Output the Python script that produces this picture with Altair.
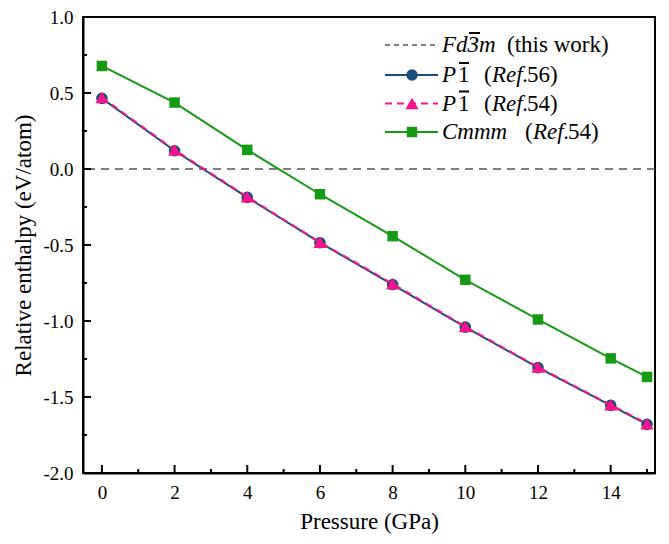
import altair as alt
import pandas as pd

pressure = [0, 2, 4, 6, 8, 10, 12, 14, 15]
p1_ref56 = [0.465, 0.12, -0.187, -0.485, -0.76, -1.04, -1.307, -1.555, -1.68]
p1_ref54 = [0.47, 0.125, -0.183, -0.482, -0.755, -1.037, -1.303, -1.552, -1.676]
cmmm_ref54 = [0.678, 0.437, 0.126, -0.166, -0.442, -0.729, -0.99, -1.246, -1.368]

x_major = [0, 2, 4, 6, 8, 10, 12, 14]
x_minor = [1, 3, 5, 7, 9, 11, 13, 15]
y_major = [-2.0, -1.5, -1.0, -0.5, 0.0, 0.5, 1.0]
y_minor = [-1.75, -1.25, -0.75, -0.25, 0.25, 0.75]

NAVY = "#1c4e7c"
PINK = "#f5148c"
GREEN = "#169a16"
GRAY = "#555555"
FONT = "Liberation Serif"

W, H = 572, 456

df = pd.DataFrame({"p": pressure, "a": p1_ref56, "b": p1_ref54, "c": cmmm_ref54})
one = pd.DataFrame({"k": [0]})

xs = alt.Scale(domain=[-0.52, 15.22], nice=False, zero=False)
ys = alt.Scale(domain=[-2.0, 1.0], nice=False, zero=False)

x_axis = alt.Axis(values=x_major, title="Pressure (GPa)", tickSize=0, labelPadding=10,
                  grid=False, domainColor="black", domainWidth=2, titlePadding=8)
y_axis = alt.Axis(values=y_major, title="Relative enthalpy (eV/atom)", tickSize=0,
                  labelPadding=10, grid=False, domainColor="black", domainWidth=2,
                  labelExpr="replace(format(datum.value, '.1f'), '\u2212', '-')",
                  titlePadding=7)

base = alt.Chart(df)

zero_line = alt.Chart(one).mark_rule(color=GRAY, strokeDash=[8, 6], strokeWidth=1.5).encode(
    y=alt.datum(0, scale=ys, axis=y_axis)
)

line_a = base.mark_line(color=NAVY, strokeWidth=2).encode(
    x=alt.X("p:Q", scale=xs, axis=x_axis), y=alt.Y("a:Q", scale=ys, axis=y_axis))
pts_a = base.mark_point(shape="circle", filled=True, color=NAVY, size=135, opacity=1).encode(
    x=alt.X("p:Q", scale=xs), y=alt.Y("a:Q", scale=ys))
line_b = base.mark_line(color=PINK, strokeWidth=2, strokeDash=[7, 5]).encode(
    x=alt.X("p:Q", scale=xs), y=alt.Y("b:Q", scale=ys))
pts_b = base.mark_point(shape="triangle-up", filled=True, color=PINK, size=170, opacity=1).encode(
    x=alt.X("p:Q", scale=xs), y=alt.Y("b:Q", scale=ys))
line_c = base.mark_line(color=GREEN, strokeWidth=2).encode(
    x=alt.X("p:Q", scale=xs), y=alt.Y("c:Q", scale=ys))
pts_c = base.mark_point(shape="square", filled=True, color=GREEN, size=110, opacity=1).encode(
    x=alt.X("p:Q", scale=xs), y=alt.Y("c:Q", scale=ys))

# inward ticks
xt_major = alt.Chart(pd.DataFrame({"v": x_major})).mark_rule(color="black", strokeWidth=2).encode(
    x=alt.X("v:Q", scale=xs), y=alt.value(H), y2=alt.value(H - 8))
xt_minor = alt.Chart(pd.DataFrame({"v": x_minor})).mark_rule(color="black", strokeWidth=2).encode(
    x=alt.X("v:Q", scale=xs), y=alt.value(H), y2=alt.value(H - 4))
yt_major = alt.Chart(pd.DataFrame({"v": y_major})).mark_rule(color="black", strokeWidth=2).encode(
    y=alt.Y("v:Q", scale=ys), x=alt.value(0), x2=alt.value(8))
yt_minor = alt.Chart(pd.DataFrame({"v": y_minor})).mark_rule(color="black", strokeWidth=2).encode(
    y=alt.Y("v:Q", scale=ys), x=alt.value(0), x2=alt.value(4))

# manual legend (pixel layout in plot coordinates)
LX0, LX1, LM = 302, 355, 329
rows = [28, 58, 86.5, 115]
leg = []
def lrule(color, y, dash=None, width=2.0, x0=LX0, x1=LX1):
    kw = dict(color=color, strokeWidth=width)
    if dash:
        kw["strokeDash"] = dash
    return alt.Chart(one).mark_rule(**kw).encode(
        x=alt.value(x0), x2=alt.value(x1), y=alt.value(y))

def lpoint(shape, color, size, y):
    return alt.Chart(one).mark_point(shape=shape, filled=True, color=color, size=size, opacity=1).encode(
        x=alt.value(LM), y=alt.value(y))

leg.append(lrule(GRAY, rows[0], dash=[5, 4], width=1.5))
leg.append(lrule(NAVY, rows[1]))
leg.append(lpoint("circle", NAVY, 135, rows[1]))
leg.append(lrule(PINK, rows[2], dash=[7, 5]))
leg.append(lpoint("triangle-up", PINK, 170, rows[2]))
leg.append(lrule(GREEN, rows[3]))
leg.append(lpoint("square", GREEN, 110, rows[3]))

TX = 359
segments = [
    # (text, x offset, row, italic)
    ("Fd3m", 0, 0, True),
    ("(this work)", 65, 0, False),
    ("P", 0, 1, True),
    ("1", 16, 1, False),
    ("(", 42, 1, False),
    ("Ref.", 50, 1, True),
    ("56)", 85, 1, False),
    ("P", 0, 2, True),
    ("1", 16, 2, False),
    ("(", 42, 2, False),
    ("Ref.", 50, 2, True),
    ("54)", 85, 2, False),
    ("Cmmm", 0, 3, True),
    ("(", 83, 3, False),
    ("Ref.", 91, 3, True),
    ("54)", 126, 3, False),
]
for text, dx, r, it in segments:
    leg.append(alt.Chart(one).mark_text(
        text=text, align="left", baseline="middle", font=FONT, fontSize=23,
        fontStyle="italic" if it else "normal", fontWeight=400, color="#000000").encode(
        x=alt.value(TX + dx), y=alt.value(rows[r])))

# overbars (3 in Fd3m, 1 in P1)
leg.append(lrule("black", rows[0] - 12, width=2, x0=TX + 27, x1=TX + 38))
leg.append(lrule("black", rows[1] - 12, width=2, x0=TX + 17, x1=TX + 27))
leg.append(lrule("black", rows[2] - 12, width=2, x0=TX + 17, x1=TX + 27))

chart = alt.layer(
    zero_line, line_a, pts_a, line_b, pts_b, line_c, pts_c,
    xt_major, xt_minor, yt_major, yt_minor, *leg
).properties(
    width=W, height=H,
    autosize=alt.AutoSizeParams(type="none"),
    padding={"left": 75, "top": 9, "right": 6, "bottom": 63},
).configure_view(
    stroke="black", strokeWidth=2
).configure_axis(
    labelFont=FONT, titleFont=FONT, labelFontSize=19, titleFontSize=23,
    labelColor="black", titleColor="black", titleFontWeight="normal"
)

chart.save("out.html", embed_options={"renderer": "svg", "actions": False})
